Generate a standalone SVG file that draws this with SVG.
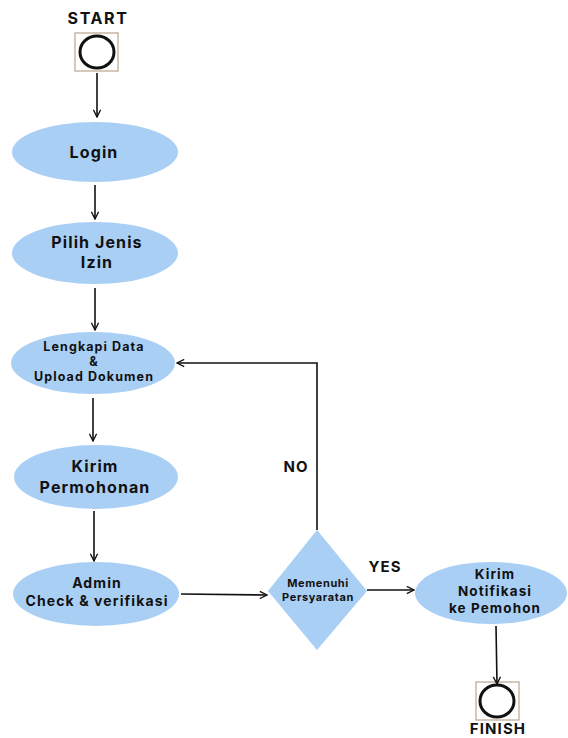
<svg xmlns="http://www.w3.org/2000/svg" width="568" height="738" viewBox="0 0 568 738">
<defs>
<style>
.node{fill:#A9CFF5;stroke:none}
.t{font-family:Inter,"Liberation Sans",Arial,sans-serif;font-weight:bold;fill:#111;text-anchor:middle;letter-spacing:1.1px}
.c{fill:none;stroke:#111;stroke-width:1.6}
.box{fill:#fff;stroke:#B9A58F;stroke-width:1.2}
.circ{fill:none;stroke:#111;stroke-width:3}
</style>
<marker id="ah" viewBox="0 0 10 10" refX="9" refY="5" markerWidth="9" markerHeight="9" markerUnits="userSpaceOnUse" orient="auto">
<path d="M1,1 L9,5 L1,9" fill="none" stroke="#111" stroke-width="1.5"/>
</marker>
</defs>
<rect width="568" height="738" fill="#fff"/>
<g id="start">
<text class="t" x="98" y="24" font-size="16" style="letter-spacing:1.6px">START</text>
<rect class="box" x="75" y="33" width="43" height="38"/>
<ellipse class="circ" cx="97" cy="52" rx="17" ry="16"/>
</g>
<g id="login">
<ellipse class="node" cx="95" cy="152" rx="83" ry="30"/>
<text class="t" x="94" y="158" font-size="16">Login</text>
</g>
<g id="pilih">
<ellipse class="node" cx="95" cy="253" rx="83" ry="31"/>
<text class="t" x="97" y="248" font-size="16">Pilih Jenis</text>
<text class="t" x="97" y="268" font-size="16">Izin</text>
</g>
<g id="lengkapi">
<ellipse class="node" cx="93" cy="363" rx="82" ry="31"/>
<text class="t" x="94" y="351" font-size="12.5">Lengkapi Data</text>
<text class="t" x="94" y="366" font-size="12.5">&amp;</text>
<text class="t" x="94" y="381" font-size="12.5">Upload Dokumen</text>
</g>
<g id="kirim">
<ellipse class="node" cx="96" cy="477" rx="82" ry="32"/>
<text class="t" x="95" y="472" font-size="16">Kirim</text>
<text class="t" x="95" y="493" font-size="16">Permohonan</text>
</g>
<g id="admin">
<ellipse class="node" cx="96" cy="594" rx="83" ry="32"/>
<text class="t" x="97" y="588" font-size="14">Admin</text>
<text class="t" x="97" y="606" font-size="14">Check &amp; verifikasi</text>
</g>
<g id="decision">
<polygon class="node" points="317,530 367,591 317,650 268,591"/>
<text class="t" x="318" y="587" font-size="11" style="letter-spacing:0.6px">Memenuhi</text>
<text class="t" x="318" y="601" font-size="11" style="letter-spacing:0.6px">Persyaratan</text>
</g>
<g id="notifikasi">
<ellipse class="node" cx="491" cy="593" rx="76" ry="31"/>
<text class="t" x="495" y="579" font-size="13.5">Kirim</text>
<text class="t" x="495" y="596" font-size="13.5">Notifikasi</text>
<text class="t" x="495" y="613" font-size="13.5">ke Pemohon</text>
</g>
<g id="finish">
<rect class="box" x="476" y="682" width="43" height="38"/>
<ellipse class="circ" cx="497" cy="701" rx="17" ry="16"/>
<text class="t" x="498" y="734" font-size="15">FINISH</text>
</g>
<g id="connectors">
<path class="c" d="M97,73 L97,117" marker-end="url(#ah)"/>
<path class="c" d="M95,185 L95,219" marker-end="url(#ah)"/>
<path class="c" d="M95,288 L95,330" marker-end="url(#ah)"/>
<path class="c" d="M93,398 L93,441" marker-end="url(#ah)"/>
<path class="c" d="M94,511 L94,561" marker-end="url(#ah)"/>
<path class="c" d="M181,594 L267,595" marker-end="url(#ah)"/>
<path class="c" d="M317,530 L317,363 L177,363" marker-end="url(#ah)"/>
<path class="c" d="M367,590 L414,590" marker-end="url(#ah)"/>
<path class="c" d="M496,626 L497,684" marker-end="url(#ah)"/>
<text class="t" x="296" y="472" font-size="15">NO</text>
<text class="t" x="385" y="572" font-size="15">YES</text>
</g>
</svg>
